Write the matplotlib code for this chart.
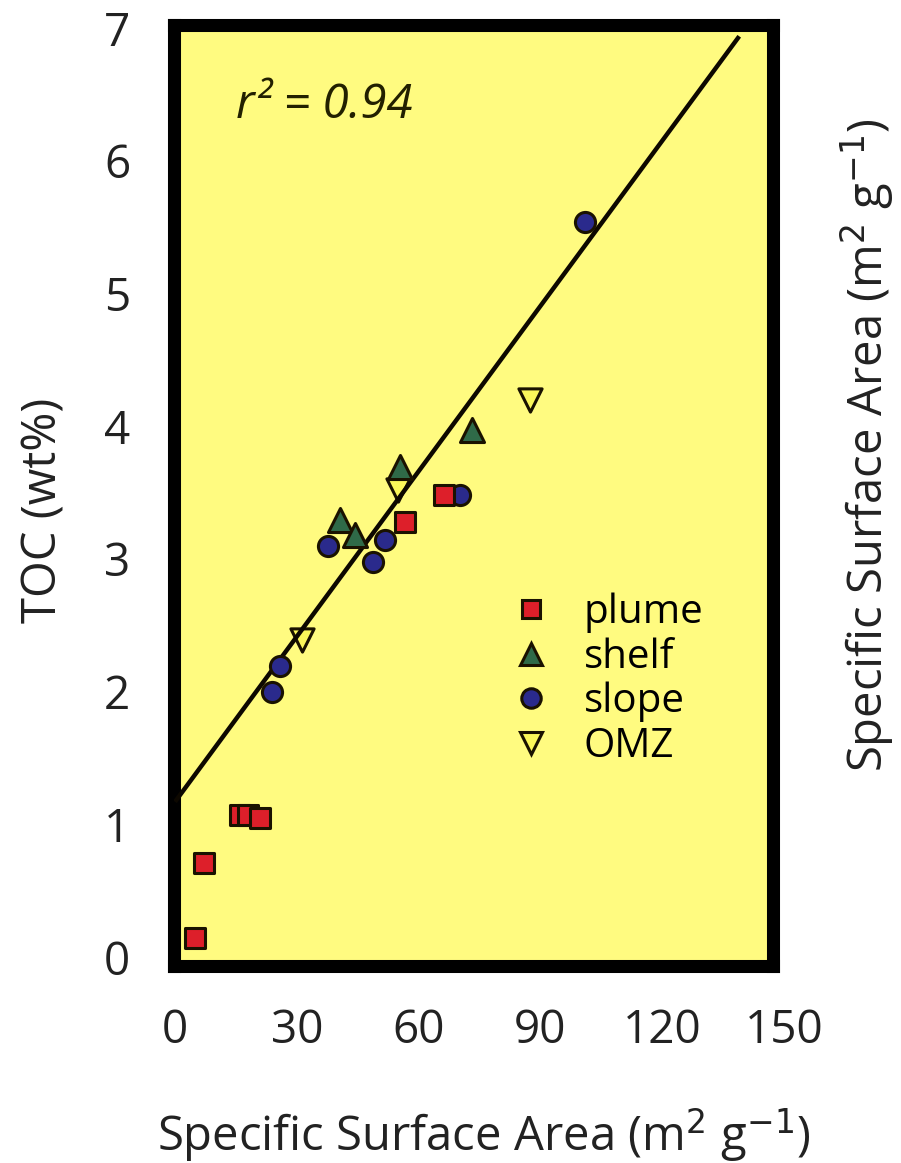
import matplotlib.pyplot as plt
from matplotlib.lines import Line2D

plt.rcParams['font.family'] = ['Open Sans', 'DejaVu Sans']

# TOC vs specific surface area, by sample group
plume_ssa = [4.9, 7.1, 16.0, 18.0, 20.9, 56.7, 66.3]
plume_toc = [0.14, 0.71, 1.07, 1.07, 1.05, 3.28, 3.48]

shelf_ssa = [40.7, 44.4, 55.4, 73.2]
shelf_toc = [3.29, 3.18, 3.69, 3.97]

slope_ssa = [23.9, 25.9, 37.7, 48.8, 51.7, 70.2, 101.0]
slope_toc = [2.00, 2.19, 3.10, 2.98, 3.14, 3.48, 5.54]

omz_ssa = [31.3, 55.0, 87.5]
omz_toc = [2.39, 3.52, 4.20]

# regression line
fit_x = [0.0, 139.0]
fit_intercept = 1.17
fit_slope = 0.0415
r2_text = 'r² = 0.94'

x_ticks = [0, 30, 60, 90, 120, 150]
y_ticks = [0, 1, 2, 3, 4, 5, 6, 7]
xlabel = 'Specific Surface Area (m$^2$ g$^{-1}$)'
ylabel = 'TOC (wt%)'

fig = plt.figure(figsize=(9.01, 11.63), dpi=100)
ax = fig.add_axes([0.1926, 0.1698, 0.6648, 0.8083])
ax.set_facecolor('#fffb80')

edge = '#1a1200'
fit_y = [fit_intercept + fit_slope * v for v in fit_x]

ax.scatter(omz_ssa, omz_toc, marker='v', s=280, c='#fbf75a', edgecolors=edge, linewidths=2.2, zorder=2)
ax.plot(fit_x, fit_y, color='#0d0800', lw=3.2, zorder=3, solid_capstyle='butt')
ax.scatter(shelf_ssa, shelf_toc, marker='^', s=300, c='#2f6a48', edgecolors=edge, linewidths=2.2, zorder=4)
ax.scatter(slope_ssa, slope_toc, marker='o', s=210, c='#2a2a8c', edgecolors=edge, linewidths=2.2, zorder=4)
ax.scatter(plume_ssa, plume_toc, marker='s', s=190, c='#dd1f2a', edgecolors=edge, linewidths=2.2, zorder=5)

ax.set_xlim(-0.37, 147.2)
ax.set_ylim(-0.064, 7.02)

for s in ax.spines.values():
    s.set_linewidth(9.4)
    s.set_color('black')

ax.set_yticks(y_ticks)
ax.tick_params(axis='y', length=0, pad=31, labelsize=33, labelcolor='#222222')
ax.set_xticks([])
for v in x_ticks:
    ax.text(v, -0.045, str(v), transform=ax.get_xaxis_transform(), ha='center', va='top',
            fontsize=33, color='#222222', clip_on=False)

ax.text(0.105, 0.915, r2_text, transform=ax.transAxes, fontsize=34, fontstyle='italic',
        color='#222000', ha='left', va='center')

handles = [
    Line2D([], [], ls='none', marker='s', ms=13, mfc='#dd1f2a', mec=edge, mew=2.2),
    Line2D([], [], ls='none', marker='^', ms=16, mfc='#2f6a48', mec=edge, mew=2.2),
    Line2D([], [], ls='none', marker='o', ms=14, mfc='#2a2a8c', mec=edge, mew=2.2),
    Line2D([], [], ls='none', marker='v', ms=16, mfc='#fbf75a', mec=edge, mew=2.2),
]
ax.legend(handles, ['plume', 'shelf', 'slope', 'OMZ'], loc='upper left',
          bbox_to_anchor=(0.53, 0.418), frameon=False, fontsize=29,
          handlelength=1.0, handletextpad=0.8, labelspacing=0.1, borderpad=0)

fig.text(0.537, 0.024, xlabel, ha='center', va='center', fontsize=34, color='#222222')
fig.text(0.049, 0.5615, ylabel, ha='center', va='center', rotation=90, fontsize=34, color='#222222')
fig.text(0.962, 0.617, xlabel, ha='center', va='center', rotation=90, fontsize=34, color='#222222')

fig.savefig('out.png', dpi=100)
